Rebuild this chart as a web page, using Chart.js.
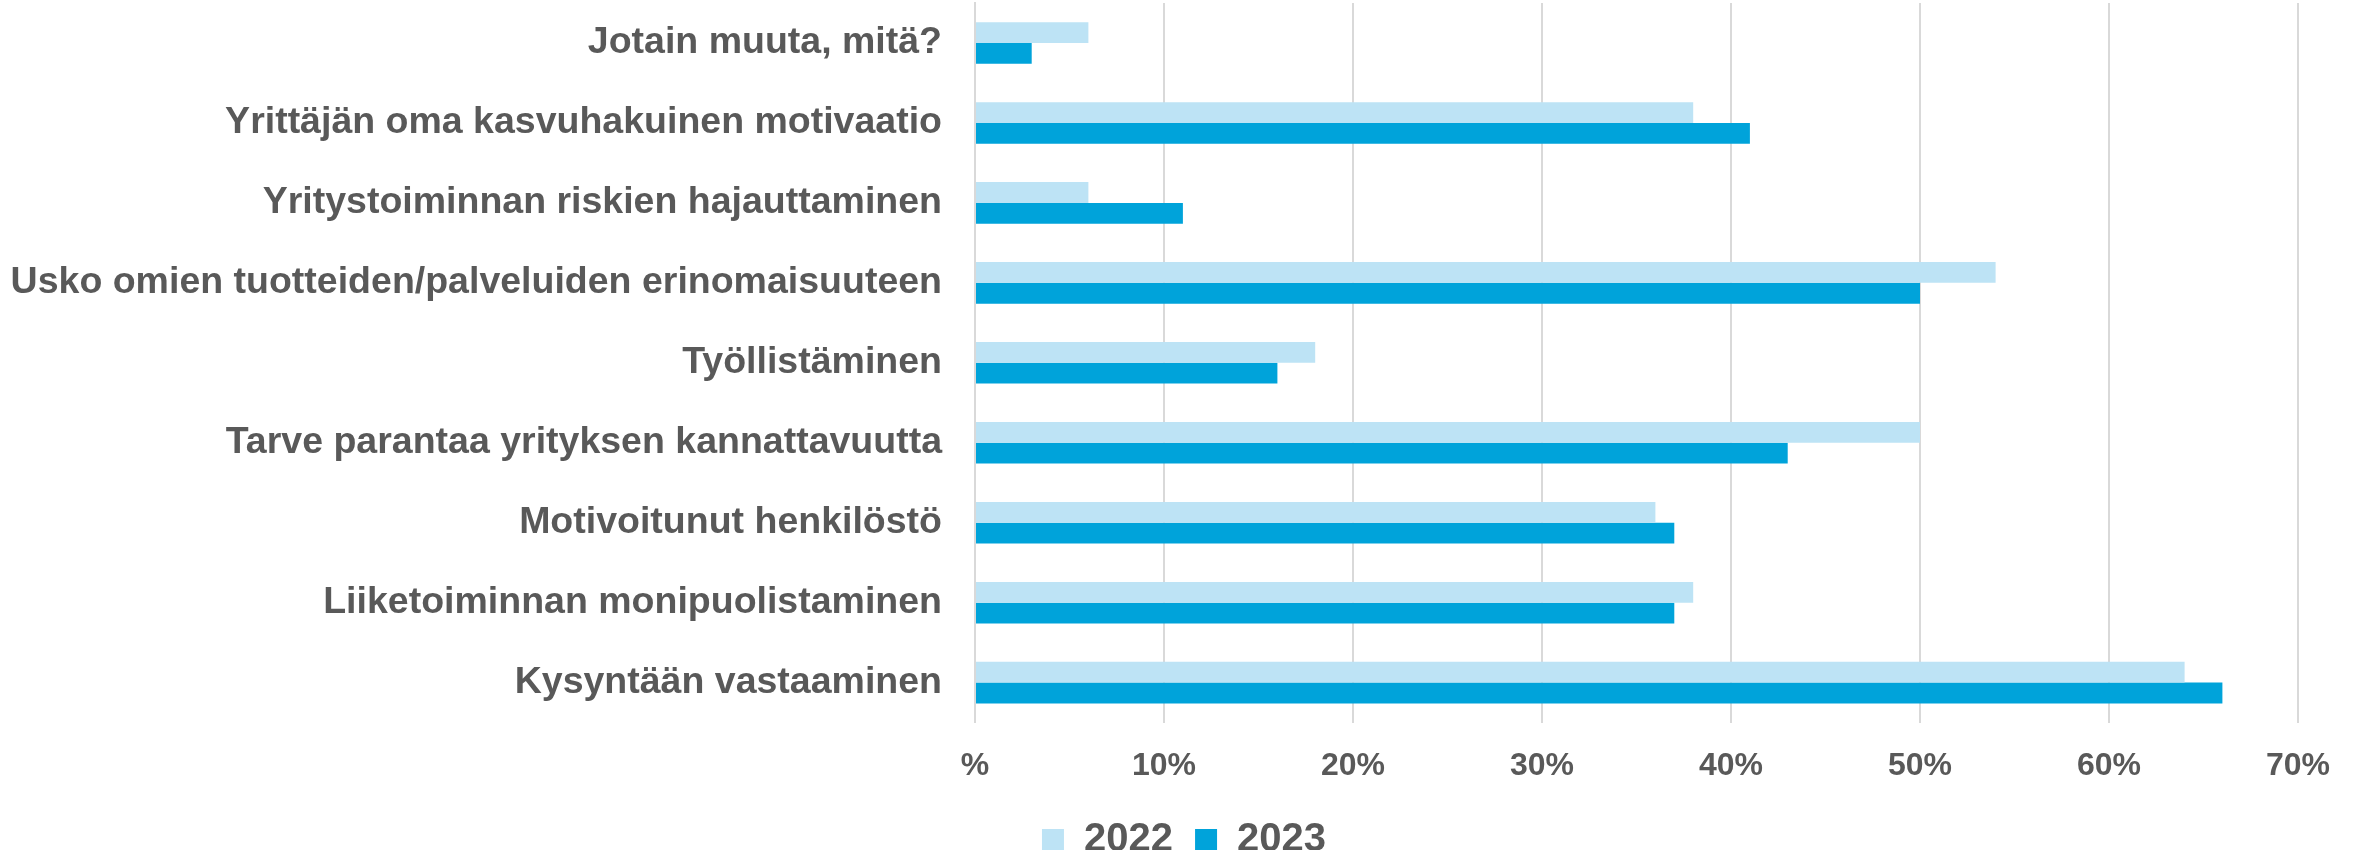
<!DOCTYPE html>
<html>
<head>
<meta charset="utf-8">
<script src="https://cdn.jsdelivr.net/npm/chart.js@4"></script>
<style>
  html, body { margin: 0; padding: 0; background: #fff; }
  #wrap { width: 2361px; height: 850px; }
</style>
</head>
<body>
<div id="wrap"><canvas id="chart" width="2361" height="850"></canvas></div>
<script>
const categories = [
    "Jotain muuta, mitä?",
    "Yrittäjän oma kasvuhakuinen motivaatio",
    "Yritystoiminnan riskien hajauttaminen",
    "Usko omien tuotteiden/palveluiden erinomaisuuteen",
    "Työllistäminen",
    "Tarve parantaa yrityksen kannattavuutta",
    "Motivoitunut henkilöstö",
    "Liiketoiminnan monipuolistaminen",
    "Kysyntään vastaaminen"
];
const seriesNames = ["2022", "2023"];
const values2022 = [6, 38, 6, 54, 18, 50, 36, 38, 64];
const values2023 = [3, 41, 11, 50, 16, 43, 37, 37, 66];
const tickValues = [0, 10, 20, 30, 40, 50, 60, 70];

const textColor = "#595959";
const fontFamily = "'Liberation Sans', Arial, sans-serif";

// legend sits centred under the whole picture, not under the plot
const legendShift = {
    id: "legendShift",
    afterLayout: (c) => {
        c.legend.left += 35;
        c.legend.right += 35;
    }
};

let ctx = document.getElementById("chart").getContext("2d");

let chart = new Chart(ctx, {
    type: "bar",
    data: {
        labels: categories,
        datasets: [
            {
                label: seriesNames[0],
                data: values2022,
                backgroundColor: "#BDE3F5",
                borderWidth: 0
            },
            {
                label: seriesNames[1],
                data: values2023,
                backgroundColor: "#00A3DA",
                borderWidth: 0
            }
        ]
    },
    plugins: [legendShift],
    options: {
        indexAxis: "y",
        responsive: false,
        animation: false,
        layout: {
            padding: { top: 3, right: 63, left: 0, bottom: -20 }
        },
        datasets: {
            bar: {
                categoryPercentage: 0.52,
                barPercentage: 1.0
            }
        },
        scales: {
            x: {
                min: 0,
                max: 70,
                afterBuildTicks: (axis) => {
                    axis.ticks = tickValues.map(v => ({ value: v }));
                },
                grid: {
                    color: "#D9D9D9",
                    lineWidth: 2,
                    drawTicks: false
                },
                border: { display: false },
                ticks: {
                    padding: 24,
                    color: textColor,
                    font: { family: fontFamily, size: 32, weight: "bold" },
                    callback: (v) => v === 0 ? "%" : v + "%"
                }
            },
            y: {
                grid: { display: false, drawTicks: false },
                border: { display: true, color: "#D9D9D9", width: 2 },
                afterFit: (axis) => {
                    axis.width = 975;
                    axis.paddingTop = 0;
                    axis.paddingBottom = 0;
                },
                ticks: {
                    padding: 33,
                    color: textColor,
                    font: { family: fontFamily, size: 37.5, weight: "bold" }
                }
            }
        },
        plugins: {
            legend: {
                position: "bottom",
                labels: {
                    boxWidth: 22,
                    boxHeight: 22,
                    padding: 11,
                    color: textColor,
                    font: { family: fontFamily, size: 40, weight: "bold" },
                    // a bit more room after the first item, like the original
                    generateLabels: (c) => {
                        let items = Chart.defaults.plugins.legend.labels.generateLabels(c);
                        items[0].text = items[0].text + " ";
                        return items;
                    }
                }
            },
            tooltip: { enabled: false }
        }
    }
});
</script>
</body>
</html>
